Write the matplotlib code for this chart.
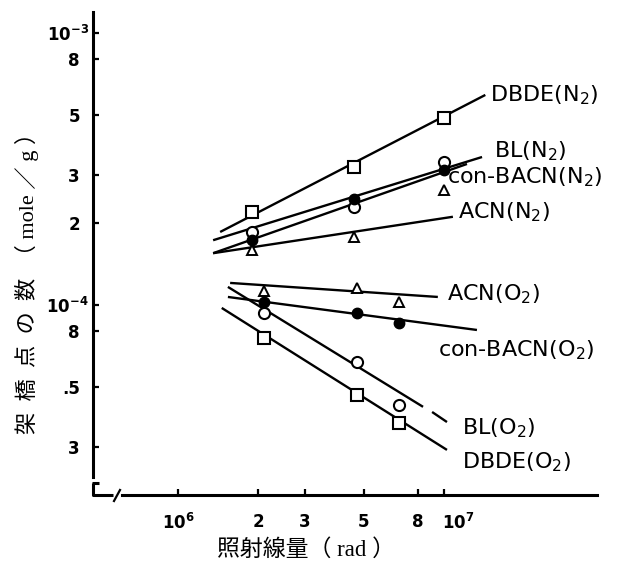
import matplotlib
matplotlib.use("Agg")
import matplotlib.pyplot as plt
from matplotlib.lines import Line2D
from matplotlib.ticker import FixedLocator, NullLocator, FixedFormatter
import matplotlib.transforms as mtransforms

plt.rcParams["mathtext.fontset"] = "dejavusans"

# ---- measured crosslink densities (mole/g) vs. dose (rad) ----
dose_n2 = [1.9e6, 4.6e6, 1.0e7]
dose_o2 = [2.1e6, 4.7e6, 6.8e6]

dbde_n2 = [2.20e-4, 3.22e-4, 4.87e-4]
bl_n2 = [1.85e-4, 2.29e-4, 3.36e-4]
bacn_n2 = [1.73e-4, 2.45e-4, 3.13e-4]
acn_n2 = [1.59e-4, 1.78e-4, 2.65e-4]

acn_o2 = [1.126e-4, 1.155e-4, 1.026e-4]
bacn_o2 = [1.026e-4, 0.935e-4, 0.859e-4]
bl_o2 = [0.935e-4, 0.617e-4, 0.429e-4]
dbde_o2 = [0.756e-4, 0.467e-4, 0.368e-4]

# ---- straight-line fits (start, end) in dose and density ----
fit_dbde_n2_x = [1.44e6, 1.43e7]
fit_dbde_n2_y = [1.855e-4, 5.92e-4]
fit_bl_n2_x = [1.355e6, 1.39e7]
fit_bl_n2_y = [1.73e-4, 3.50e-4]
fit_bacn_n2_x = [1.355e6, 1.22e7]
fit_bacn_n2_y = [1.55e-4, 3.30e-4]
fit_acn_n2_x = [1.355e6, 1.08e7]
fit_acn_n2_y = [1.55e-4, 2.11e-4]

fit_acn_o2_x = [1.57e6, 9.48e6]
fit_acn_o2_y = [1.205e-4, 1.07e-4]
fit_bacn_o2_x = [1.54e6, 1.33e7]
fit_bacn_o2_y = [1.07e-4, 0.809e-4]
fit_bl_o2_x = [1.54e6, 8.34e6]
fit_bl_o2_y = [1.165e-4, 0.422e-4]
fit_bl_o2_tail_x = [9.02e6, 1.026e7]
fit_bl_o2_tail_y = [0.404e-4, 0.371e-4]
fit_dbde_o2_x = [1.46e6, 1.026e7]
fit_dbde_o2_y = [0.975e-4, 0.293e-4]

# ---- axis ticks ----
yticks = [1e-3, 8e-4, 5e-4, 3e-4, 2e-4, 1e-4, 8e-5, 5e-5, 3e-5]
ytick_labels = [r"$\mathbf{10^{-3}}$", "8", "5", "3", "2",
                r"$\mathbf{10^{-4}}$", "8", ".5", "3"]
xticks = [1e6, 2e6, 3e6, 5e6, 8e6, 1e7]
xtick_labels = [r"$\mathbf{10^{6}}$", "2", "3", "5", "8", r"$\mathbf{10^{7}}$"]

series_labels = {
    "dbde_n2": "DBDE(N$_2$)",
    "bl_n2": "BL(N$_2$)",
    "bacn_n2": "con-BACN(N$_2$)",
    "acn_n2": "ACN(N$_2$)",
    "acn_o2": "ACN(O$_2$)",
    "bacn_o2": "con-BACN(O$_2$)",
    "bl_o2": "BL(O$_2$)",
    "dbde_o2": "DBDE(O$_2$)",
}

W, H = 628, 587
fig = plt.figure(figsize=(W / 100, H / 100), dpi=100)
fig.patch.set_facecolor("white")

# axes box in pixel terms
AX_L, AX_R, AX_T, AX_B = 93, 597, 12, 495
ax = fig.add_axes([AX_L / W, (H - AX_B) / H, (AX_R - AX_L) / W, (AX_B - AX_T) / H])
ax.set_xscale("log")
ax.set_yscale("log")
ax.set_xlim(4.79e5, 3.76e7)
ax.set_ylim(2.0e-5, 1.195e-3)

lw = 1.7
fit_kw = dict(color="black", lw=lw, solid_capstyle="butt", zorder=2)
for fx, fy in [(fit_dbde_n2_x, fit_dbde_n2_y), (fit_bl_n2_x, fit_bl_n2_y),
               (fit_bacn_n2_x, fit_bacn_n2_y), (fit_acn_n2_x, fit_acn_n2_y),
               (fit_acn_o2_x, fit_acn_o2_y), (fit_bacn_o2_x, fit_bacn_o2_y),
               (fit_bl_o2_x, fit_bl_o2_y), (fit_bl_o2_tail_x, fit_bl_o2_tail_y),
               (fit_dbde_o2_x, fit_dbde_o2_y)]:
    ax.plot(fx, fy, **fit_kw)

open_sq = dict(marker="s", ms=8, mfc="white", mec="black", mew=1.5, ls="none", zorder=4)
open_ci = dict(marker="o", ms=8, mfc="white", mec="black", mew=1.5, ls="none", zorder=4)
fill_ci = dict(marker="o", ms=7.5, mfc="black", mec="black", mew=1.0, ls="none", zorder=5)
open_tr = dict(marker="^", ms=7, mfc="white", mec="black", mew=1.4, ls="none", zorder=4)

ax.plot(dose_n2, dbde_n2, **open_sq)
ax.plot(dose_n2, bl_n2, **open_ci)
ax.plot(dose_n2, bacn_n2, **fill_ci)
ax.plot(dose_n2, acn_n2, **open_tr)
ax.plot(dose_o2, acn_o2, **open_tr)
ax.plot(dose_o2, bacn_o2, **fill_ci)
ax.plot(dose_o2, bl_o2, **open_ci)
ax.plot(dose_o2, dbde_o2, **open_sq)

# ---- spines with broken corner ----
for s in ("top", "right"):
    ax.spines[s].set_visible(False)
ax.spines["left"].set_linewidth(2.2)
ax.spines["bottom"].set_linewidth(2.2)
ax.spines["left"].set_bounds(2.33e-5, 1.195e-3)
ax.spines["bottom"].set_bounds(6.15e5, 3.76e7)


def fxp(px):
    return (px - AX_L) / (AX_R - AX_L)


def fyp(py):
    return (AX_B - py) / (AX_B - AX_T)


brk = dict(color="black", lw=2.2, transform=ax.transAxes, clip_on=False,
           solid_capstyle="butt")
ax.add_line(Line2D([fxp(93), fxp(93), fxp(113)], [fyp(483), fyp(495), fyp(495)], **brk))
ax.add_line(Line2D([fxp(92), fxp(99)], [fyp(483), fyp(483)], **brk))
ax.add_line(Line2D([fxp(114), fxp(120)], [fyp(501), fyp(490)], color="black", lw=1.6,
                   transform=ax.transAxes, clip_on=False))

# ---- ticks ----
ax.yaxis.set_major_locator(FixedLocator(yticks))
ax.yaxis.set_major_formatter(FixedFormatter(ytick_labels))
ax.yaxis.set_minor_locator(NullLocator())
ax.xaxis.set_major_locator(FixedLocator(xticks))
ax.xaxis.set_major_formatter(FixedFormatter(xtick_labels))
ax.xaxis.set_minor_locator(NullLocator())
ax.tick_params(axis="both", which="major", direction="in", length=4, width=1.6,
               labelsize=12)
ax.tick_params(axis="y", pad=9.4)
ax.tick_params(axis="x", pad=13)

for lab in ax.get_yticklabels():
    lab.set_fontweight("bold")
    if "10" in lab.get_text():
        lab.set_transform(lab.get_transform() +
                          mtransforms.ScaledTranslation(9 / 100, 0, fig.dpi_scale_trans))
for lab in ax.get_xticklabels():
    lab.set_fontweight("bold")
    if "10^{7}" in lab.get_text():
        lab.set_transform(lab.get_transform() +
                          mtransforms.ScaledTranslation(14 / 100, 0, fig.dpi_scale_trans))

# ---- series labels ----
lab_fs = 16
label_pos = {
    "dbde_n2": (490, 95),
    "bl_n2": (494, 151),
    "bacn_n2": (447, 177),
    "acn_n2": (458, 212),
    "acn_o2": (447, 294),
    "bacn_o2": (438, 350),
    "bl_o2": (462, 428),
    "dbde_o2": (462, 462),
}
for key, (px, py) in label_pos.items():
    fig.text(px / W, 1 - py / H, series_labels[key], fontsize=lab_fs,
             ha="left", va="center", family="DejaVu Sans")

# ---- axis titles ----
title_family = ["Liberation Serif", "Noto Sans CJK JP"]
fig.text(27 / W, 1 - 278 / H, "架  橋  点  の  数  （ mole ／ g ）", rotation=90,
         fontsize=16, ha="center", va="center", family=title_family)
fig.text(306 / W, 1 - 550 / H, "照射線量（ rad ）", fontsize=16.5,
         ha="center", va="center", family=title_family)

fig.savefig("out.png", dpi=100, facecolor="white")
